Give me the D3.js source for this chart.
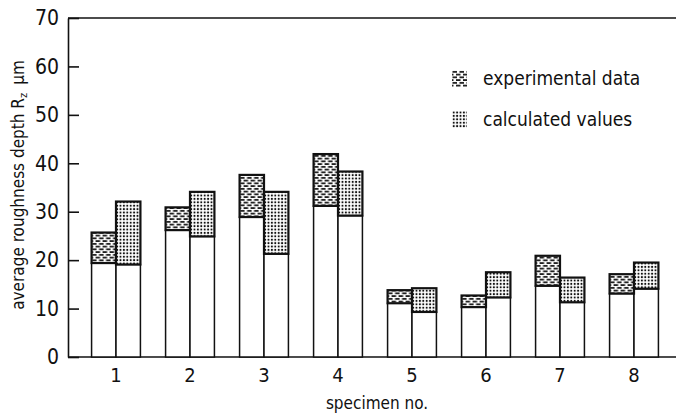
<!DOCTYPE html>
<html>
<head>
<meta charset="utf-8">
<script src="https://cdn.jsdelivr.net/npm/d3@7/dist/d3.min.js"></script>
<style>
  body { margin: 0; background: #fff; }
  svg { display: block; }
  text { font-family: "DejaVu Sans Condensed", "Liberation Sans Narrow", sans-serif; fill: #111; }
  .tick text { font-family: "Liberation Sans Narrow", "DejaVu Sans Condensed", sans-serif; font-size: 21px; }
</style>
</head>
<body>
<script>
// values (roughness depth Rz in µm)
var specimens = ["1", "2", "3", "4", "5", "6", "7", "8"];
var expLower  = [19.4, 26.2, 28.9, 31.2, 11.1, 10.3, 14.7, 13.1];
var expUpper  = [25.7, 30.9, 37.6, 41.9, 13.8, 12.7, 20.9, 17.1];
var calcLower = [19.1, 24.9, 21.3, 29.2,  9.3, 12.3, 11.3, 14.1];
var calcUpper = [32.1, 34.1, 34.1, 38.3, 14.2, 17.5, 16.4, 19.5];
var yTicks = [0, 10, 20, 30, 40, 50, 60, 70];
var seriesNames = ["experimental data", "calculated values"];

var width = 676, height = 415;
var axisX = 68, plotTop = 18, plotBottom = 357;

var svg = d3.select("body").append("svg")
    .attr("width", width)
    .attr("height", height);

// hatch patterns
var defs = svg.append("defs");
var pExp = defs.append("pattern")
    .attr("id", "pExp")
    .attr("patternUnits", "userSpaceOnUse")
    .attr("width", 7).attr("height", 5.5);
pExp.append("rect").attr("width", 7).attr("height", 5.5).attr("fill", "#fff");
pExp.append("rect").attr("x", 0.5).attr("y", 1).attr("width", 4.5).attr("height", 1.7).attr("fill", "#111");
pExp.append("rect").attr("x", 4).attr("y", 3.75).attr("width", 4.5).attr("height", 1.7).attr("fill", "#111");
pExp.append("rect").attr("x", -3).attr("y", 3.75).attr("width", 4.5).attr("height", 1.7).attr("fill", "#111");

var pCalc = defs.append("pattern")
    .attr("id", "pCalc")
    .attr("patternUnits", "userSpaceOnUse")
    .attr("width", 3.4).attr("height", 3.4);
pCalc.append("rect").attr("width", 3.4).attr("height", 3.4).attr("fill", "#fff");
pCalc.append("circle").attr("cx", 1.7).attr("cy", 1.7).attr("r", 1.05).attr("fill", "#111");

var x = d3.scaleBand()
    .domain(specimens)
    .range([79, 671])
    .paddingInner(0.34)
    .paddingOuter(0.17);

var xSub = d3.scaleBand()
    .domain(["exp", "calc"])
    .range([0, x.bandwidth()]);

var y = d3.scaleLinear()
    .domain([0, 70])
    .range([plotBottom, plotTop]);

// frame lines
svg.append("line")
    .attr("x1", axisX).attr("x2", width)
    .attr("y1", plotTop).attr("y2", plotTop)
    .attr("stroke", "#111").attr("stroke-width", 1.6);
svg.append("line")
    .attr("x1", axisX).attr("x2", width)
    .attr("y1", plotBottom).attr("y2", plotBottom)
    .attr("stroke", "#111").attr("stroke-width", 1.6);

// y axis with inward ticks
var yAxis = svg.append("g")
    .attr("transform", "translate(" + axisX + ",0)")
    .call(d3.axisLeft(y).tickValues(yTicks).tickSizeInner(-11).tickSizeOuter(0).tickPadding(9));
yAxis.select(".domain").attr("stroke", "#111").attr("stroke-width", 1.6);
yAxis.selectAll(".tick line").attr("stroke", "#111").attr("stroke-width", 1.6);
yAxis.selectAll(".tick text").attr("fill", "#111");

// x axis labels (no tick marks)
var xAxis = svg.append("g")
    .attr("transform", "translate(0," + plotBottom + ")")
    .call(d3.axisBottom(x).tickSize(0).tickPadding(11));
xAxis.select(".domain").remove();
xAxis.selectAll(".tick text").attr("fill", "#111").style("font-size", "20px");

// bars
var data = specimens.map(function(s, i) {
    return [
        { key: "exp", spec: s, lo: expLower[i], hi: expUpper[i], fill: "url(#pExp)" },
        { key: "calc", spec: s, lo: calcLower[i], hi: calcUpper[i], fill: "url(#pCalc)" }
    ];
});

var groups = svg.append("g").selectAll("g")
    .data(data)
    .enter()
    .append("g")
    .attr("transform", function(d, i) { return "translate(" + x(specimens[i]) + ",0)"; });

// white lower part
groups.selectAll(".lower")
    .data(function(d) { return d; })
    .enter()
    .append("rect")
    .attr("class", "lower")
    .attr("x", function(d) { return xSub(d.key); })
    .attr("y", function(d) { return y(d.lo); })
    .attr("width", xSub.bandwidth())
    .attr("height", function(d) { return y(0) - y(d.lo); })
    .attr("fill", "#fff")
    .attr("stroke", "#111")
    .attr("stroke-width", 1.5);

// patterned upper part
groups.selectAll(".upper")
    .data(function(d) { return d; })
    .enter()
    .append("rect")
    .attr("class", "upper")
    .attr("x", function(d) { return xSub(d.key); })
    .attr("y", function(d) { return y(d.hi); })
    .attr("width", xSub.bandwidth())
    .attr("height", function(d) { return y(d.lo) - y(d.hi); })
    .attr("fill", function(d) { return d.fill; })
    .attr("stroke", "#111")
    .attr("stroke-width", 2.2);

// legend
var legend = svg.append("g").attr("transform", "translate(452,70)");
legend.selectAll("rect")
    .data(seriesNames)
    .enter()
    .append("rect")
    .attr("x", 0)
    .attr("y", function(d, i) { return i * 41; })
    .attr("width", 15)
    .attr("height", 17)
    .attr("fill", function(d, i) { return i == 0 ? "url(#pExp)" : "url(#pCalc)"; });
legend.selectAll("text")
    .data(seriesNames)
    .enter()
    .append("text")
    .attr("x", 31)
    .attr("y", function(d, i) { return i * 41 + 15; })
    .attr("font-size", 19)
    .text(function(d) { return d; });

// axis titles
svg.append("text")
    .attr("x", 377)
    .attr("y", 409)
    .attr("text-anchor", "middle")
    .attr("font-size", 17)
    .text("specimen no.");

var yTitle = svg.append("text")
    .attr("transform", "translate(24,185) rotate(-90)")
    .attr("text-anchor", "middle")
    .attr("font-size", 17);
yTitle.append("tspan").text("average roughness depth R");
yTitle.append("tspan").attr("font-size", 11).attr("dy", 3).text("z");
yTitle.append("tspan").attr("dy", -3).attr("dx", 8).text("µm");
</script>
</body>
</html>
